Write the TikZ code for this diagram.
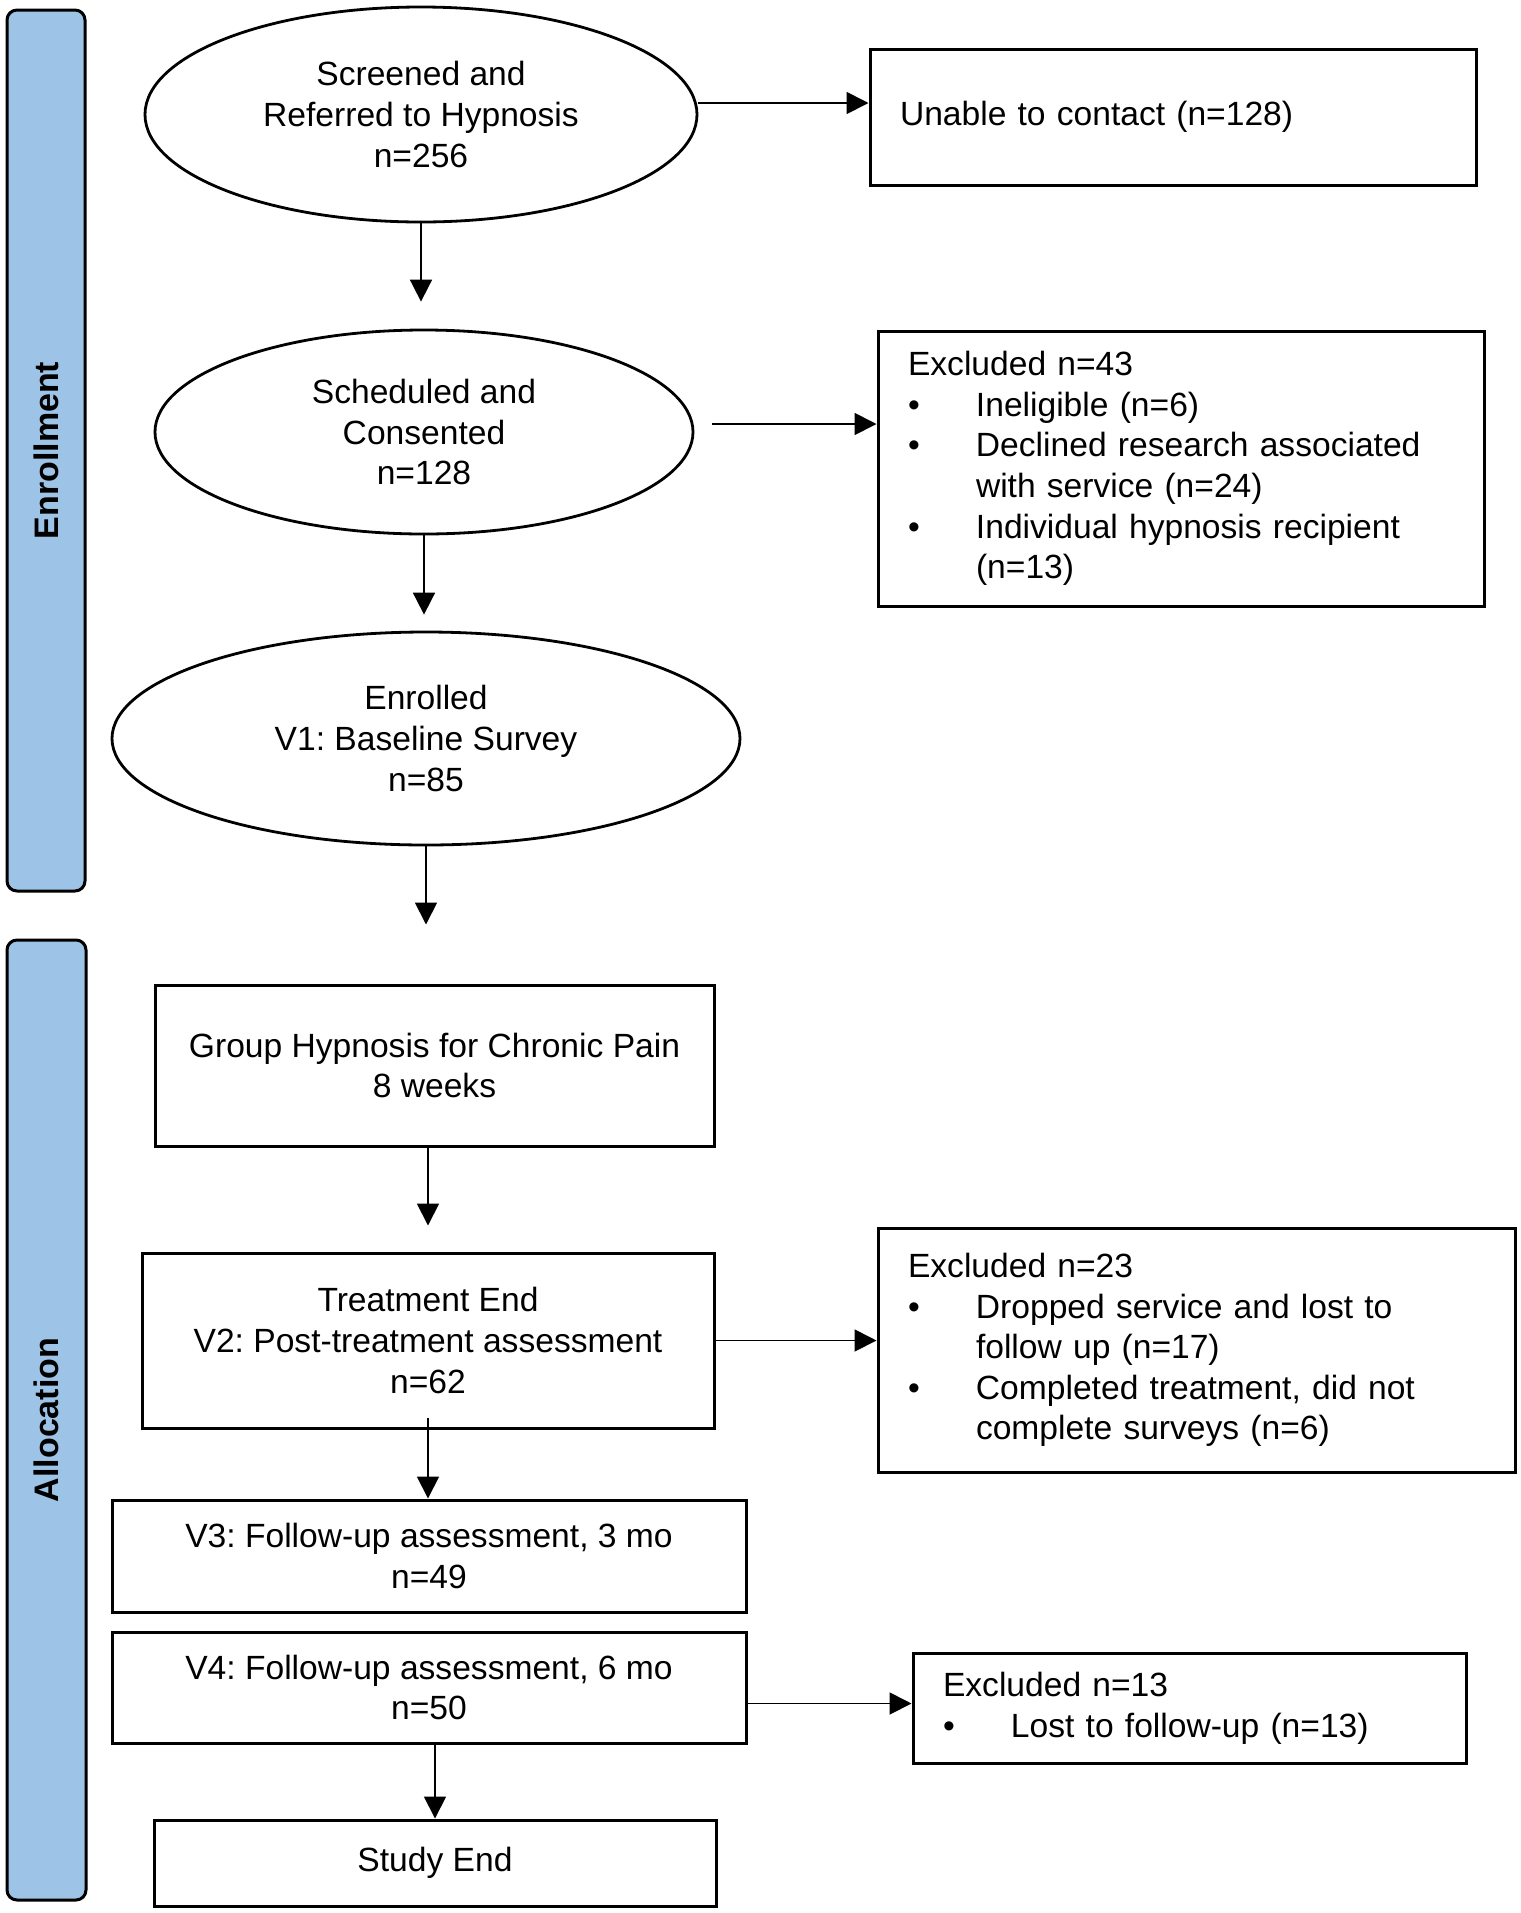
\documentclass[tikz,border=0pt]{standalone}
\usepackage{fontspec}
\setmainfont{Liberation Sans}
\usetikzlibrary{positioning,shapes.geometric,arrows.meta}

\definecolor{phaseblue}{RGB}{157,195,230}
\newcommand{\bitem}{\makebox[34pt][l]{\textbullet}}
\newcommand{\bcont}{\hspace*{34pt}}
\frenchspacing

\begin{document}
\begin{tikzpicture} [
                x=0.5pt, y=-0.5pt,
                font=\fontsize{16.8}{20.3}\selectfont,
                phasebar/.style={
                    rectangle,
                    rounded corners=5pt,
                    draw,
                    line width=1.5pt,
                    fill=phaseblue,
                    rotate=90,
                    font=\fontsize{17}{20.3}\selectfont\bfseries
                },
                stageoval/.style={
                    ellipse,
                    draw,
                    line width=1.4pt,
                    inner sep=0pt,
                    align=center
                },
                stagebox/.style={
                    rectangle,
                    draw,
                    line width=1.5pt,
                    align=center
                },
                exclbox/.style={
                    rectangle,
                    draw,
                    line width=1.5pt,
                    align=left,
                    inner xsep=15pt
                },
                flow/.style={
                    line width=0.9pt,
                    -{Triangle[length=11pt,width=11pt]}
                }
            ]

                \useasboundingbox (0,0) rectangle (1521,1913);

                \node[phasebar, minimum width=440.5pt, minimum height=39pt]     (enrbar)      at (46,450.5)     {Enrollment};
                \node[phasebar, minimum width=480pt, minimum height=39.5pt]     (allocbar)    at (46.5,1420)    {Allocation};

                \node[stageoval, minimum width=276pt, minimum height=107.5pt]   (screened)    at (421,114.5)    {Screened and\\Referred to Hypnosis\\n=256};
                \node[stageoval, minimum width=269pt, minimum height=102pt]     (consented)   at (424,432)      {Scheduled and\\Consented\\n=128};
                \node[stageoval, minimum width=314pt, minimum height=106.5pt]   (enrolled)    at (426,738.5)    {Enrolled\\V1: Baseline Survey\\n=85};

                \node[stagebox, minimum width=279.5pt, minimum height=80.5pt]   (group)       at (434.5,1065.5) {Group Hypnosis for Chronic Pain\\8 weeks};
                \node[stagebox, minimum width=286pt, minimum height=87.5pt]     (treatend)    at (428,1340.5)   {Treatment End\\V2: Post-treatment assessment\\n=62};
                \node[stagebox, minimum width=317pt, minimum height=56pt]       (followup3)   at (429,1556)     {V3: Follow-up assessment, 3 mo\\n=49};
                \node[stagebox, minimum width=317pt, minimum height=55.5pt]     (followup6)   [below=8.5pt of followup3]  {V4: Follow-up assessment, 6 mo\\n=50};
                \node[stagebox, minimum width=281pt, minimum height=43pt]       (studyend)    at (435,1863)     {Study End};

                \node[exclbox, text width=273pt, minimum height=68pt]           (unable)      at (1173,117)     {Unable to contact (n=128)};
                \node[exclbox, text width=273pt, minimum height=137.5pt]        (excl43)      at (1181,468.5)   {Excluded n=43\\
                    \bitem Ineligible (n=6)\\
                    \bitem Declined research associated\\
                    \bcont with service (n=24)\\
                    \bitem Individual hypnosis recipient\\
                    \bcont (n=13)};
                \node[exclbox, text width=288.5pt, minimum height=122pt]        (excl23)      at (1196.5,1350)  {Excluded n=23\\
                    \bitem Dropped service and lost to\\
                    \bcont follow up (n=17)\\
                    \bitem Completed treatment, did not\\
                    \bcont complete surveys (n=6)};
                \node[exclbox, text width=246.5pt, minimum height=55pt]         (excl13)      at (1189.5,1708)  {Excluded n=13\\
                    \bitem Lost to follow-up (n=13)};

                % main flow
                \draw[flow, shorten >=13.5pt] (screened.south) -- (screened.south |- consented.north);
                \draw[flow, shorten >=8pt]    (consented.south) -- (consented.south |- enrolled.north);
                \draw[flow, shorten >=29.5pt] (enrolled.south) -- (enrolled.south |- group.north);
                \draw[flow, shorten >=13pt]   (treatend.north |- group.south) -- (treatend.north);
                \draw[flow]                   ([yshift=6pt]treatend.south) -- (treatend.south |- followup3.north);
                \draw[flow]                   (followup6.south -| studyend.north) -- (studyend.north);

                % exclusions
                \draw[flow] ([yshift=5.75pt]screened.east) -- ([yshift=5.75pt]screened.east -| unable.west);
                \draw[flow] ([xshift=9pt,yshift=4pt]consented.east) -- ([yshift=4pt]consented.east -| excl43.west);
                \draw[flow] (treatend.east) -- (treatend.east -| excl23.west);
                \draw[flow] ([yshift=-8pt]followup6.east) -- ([yshift=-8pt]followup6.east -| excl13.west);

            \end{tikzpicture}
\end{document}
